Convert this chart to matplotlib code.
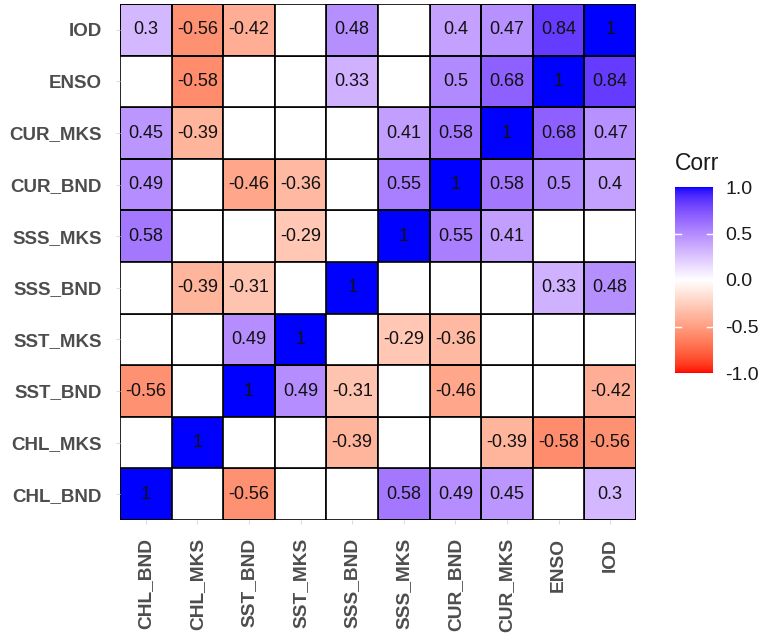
import numpy as np
import matplotlib.pyplot as plt
from matplotlib.colors import ListedColormap

plt.rcParams['font.family'] = ['Liberation Sans', 'DejaVu Sans']

names = ["CHL_BND", "CHL_MKS", "SST_BND", "SST_MKS", "SSS_BND",
         "SSS_MKS", "CUR_BND", "CUR_MKS", "ENSO", "IOD"]

# rows listed bottom (CHL_BND) to top (IOD); None = not significant (blank)
N = None
corr_rows = [
    [1,     N,     -0.56, N,     N,     0.58,  0.49,  0.45,  N,     0.3],
    [N,     1,     N,     N,     -0.39, N,     N,     -0.39, -0.58, -0.56],
    [-0.56, N,     1,     0.49,  -0.31, N,     -0.46, N,     N,     -0.42],
    [N,     N,     0.49,  1,     N,     -0.29, -0.36, N,     N,     N],
    [N,     -0.39, -0.31, N,     1,     N,     N,     N,     0.33,  0.48],
    [0.58,  N,     N,     -0.29, N,     1,     0.55,  0.41,  N,     N],
    [0.49,  N,     -0.46, -0.36, N,     0.55,  1,     0.58,  0.5,   0.4],
    [0.45,  -0.39, N,     N,     N,     0.41,  0.58,  1,     0.68,  0.47],
    [N,     -0.58, N,     N,     0.33,  N,     0.5,   0.68,  1,     0.84],
    [0.3,   -0.56, -0.42, N,     0.48,  N,     0.4,   0.47,  0.84,  1],
]

vals = np.array([[np.nan if v is None else v for v in r] for r in corr_rows])
masked = np.ma.masked_invalid(vals)


# gradient through Lab space, like ggplot's scale_fill_gradient2
def srgb_to_lab(c):
    c = np.asarray(c, float)
    lin = np.where(c <= 0.04045, c / 12.92, ((c + 0.055) / 1.055) ** 2.4)
    m = np.array([[0.4124, 0.3576, 0.1805],
                  [0.2126, 0.7152, 0.0722],
                  [0.0193, 0.1192, 0.9505]])
    xyz = m @ lin / np.array([0.95047, 1.0, 1.08883])
    f = np.where(xyz > 0.008856, np.cbrt(xyz), 7.787 * xyz + 16 / 116)
    return np.array([116 * f[1] - 16, 500 * (f[0] - f[1]), 200 * (f[1] - f[2])])


def lab_to_srgb(lab):
    L, a, b = lab
    fy = (L + 16) / 116
    fx = fy + a / 500
    fz = fy - b / 200
    f = np.array([fx, fy, fz])
    xyz = np.where(f ** 3 > 0.008856, f ** 3, (f - 16 / 116) / 7.787)
    xyz = xyz * np.array([0.95047, 1.0, 1.08883])
    minv = np.array([[3.2406, -1.5372, -0.4986],
                     [-0.9689, 1.8758, 0.0415],
                     [0.0557, -0.2040, 1.0570]])
    lin = minv @ xyz
    c = np.where(lin <= 0.0031308, 12.92 * lin, 1.055 * np.clip(lin, 0, None) ** (1 / 2.4) - 0.055)
    return np.clip(c, 0, 1)


low = srgb_to_lab([1, 0, 0])
mid = srgb_to_lab([1, 1, 1])
high = srgb_to_lab([0, 0, 1])
cols = []
for t in np.linspace(-1, 1, 256):
    if t < 0:
        lab = mid + (low - mid) * (-t)
    else:
        lab = mid + (high - mid) * t
    cols.append(lab_to_srgb(lab))
cmap = ListedColormap(cols)
cmap.set_bad("white")

fig = plt.figure(figsize=(7.6, 6.35), dpi=100)
ax = fig.add_axes([120 / 760, 1 - 520 / 635, 516 / 760, 516 / 635])

n = len(names)
mesh = ax.pcolormesh(np.arange(n + 1) - 0.5, np.arange(n + 1) - 0.5, masked,
                     cmap=cmap, vmin=-1, vmax=1, edgecolors="black",
                     linewidth=1.2, zorder=1)
for i in range(n):
    for j in range(n):
        if np.isnan(vals[i, j]):
            ax.add_patch(plt.Rectangle((j - 0.5, i - 0.5), 1, 1, facecolor="white",
                                       edgecolor="black", lw=1.2, zorder=1))
        else:
            ax.text(j, i, f"{vals[i, j]:g}", ha="center", va="center", fontsize=13,
                    color="#111111", zorder=3)

ax.set_xlim(-0.5, n - 0.5)
ax.set_ylim(-0.5, n - 0.5)
ax.set_xticks(range(n))
ax.set_yticks(range(n))
ax.set_xticklabels(names, rotation=90, fontsize=13.8, fontweight="bold", color="#4D4D4D")
ax.set_yticklabels(names, fontsize=13.5, fontweight="bold", color="#4D4D4D")
ax.tick_params(length=3, color="#DDDDDD", pad=10)
for s in ax.spines.values():
    s.set_visible(False)

cax = fig.add_axes([675 / 760, 1 - 373 / 635, 38 / 760, 186 / 635])
cb = fig.colorbar(mesh, cax=cax, ticks=[-1, -0.5, 0, 0.5, 1])
cb.outline.set_visible(False)
cb.ax.tick_params(length=0, labelsize=14, colors="#1A1A1A", pad=9)
cb.ax.set_yticklabels(["-1.0", "-0.5", "0.0", "0.5", "1.0"])
for t in [-0.5, 0.5]:
    cax.plot([0, 0.15], [t, t], color="white", lw=1)
    cax.plot([0.85, 1], [t, t], color="white", lw=1)
fig.text(675 / 760, 1 - 163 / 635, "Corr", fontsize=16.5, color="#1A1A1A", va="center")

fig.savefig("out.png", dpi=100)
